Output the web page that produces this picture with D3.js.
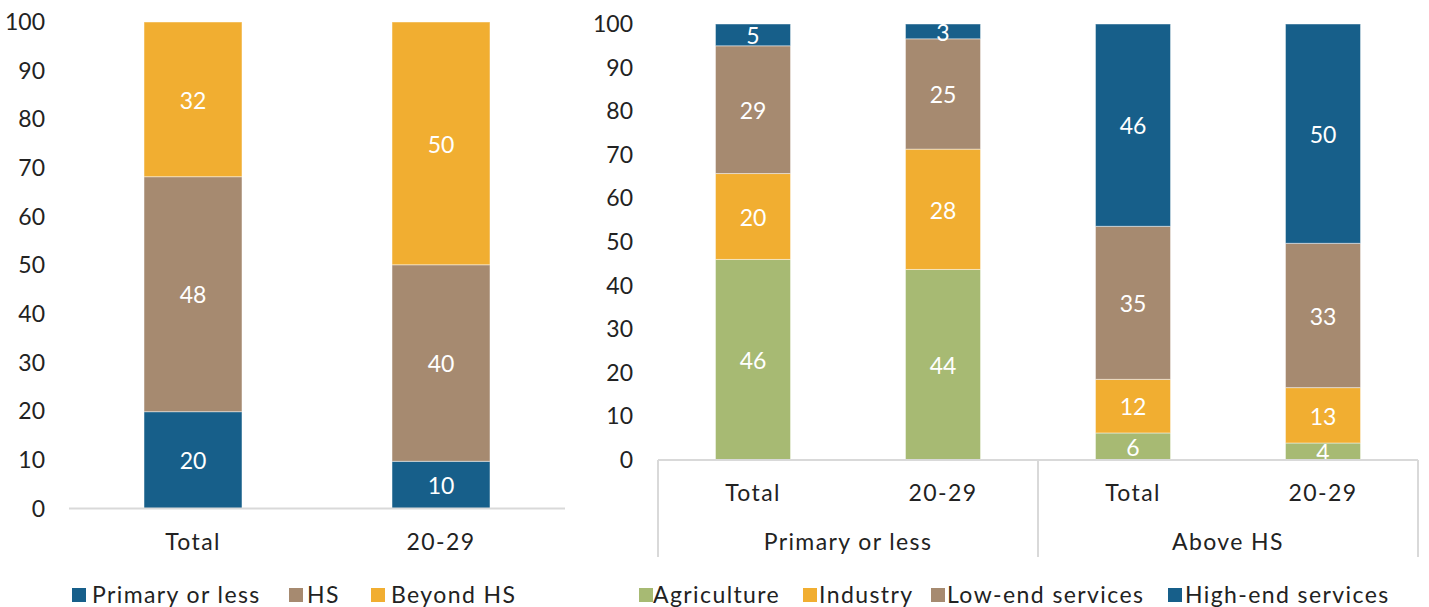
<!DOCTYPE html>
<html><head><meta charset="utf-8">
<script src="https://cdn.jsdelivr.net/npm/d3@7"></script>
<style>
body{margin:0;background:#fff;}
text{font-family:Lato,"Open Sans",sans-serif;font-weight:400;}
.w{letter-spacing:1.4px;}
</style></head>
<body><svg id="c" width="1429" height="607"></svg>
<script>
// ---- Left panel data ----
const leftCats = ["Total", "20-29"];
const leftSeries = ["Primary or less", "HS", "Beyond HS"];
const primaryOrLess = [19.9, 9.7];
const hs = [48.3, 40.4];
const beyondHS = [31.8, 49.9];

// ---- Right panel data ----
const rightGroups = ["Primary or less", "Above HS"];
const rightCats = ["Total", "20-29", "Total", "20-29"];
const rightSeries = ["Agriculture", "Industry", "Low-end services", "High-end services"];
const agriculture = [46.0, 43.7, 6.2, 3.9];
const industry = [19.7, 27.6, 12.3, 12.7];
const lowEnd = [29.3, 25.3, 35.1, 33.1];
const highEnd = [5.0, 3.4, 46.4, 50.3];

const yTicks = [0, 10, 20, 30, 40, 50, 60, 70, 80, 90, 100];

const C = {blue:"#175f8a", tan:"#a68a70", gold:"#f1ae31", green:"#a7ba73"};
const svg = d3.select("#c");
const fs = 23;

function drawPanel(opts){
  const {cats, seriesNames, seriesVals, colors, xRange, yRange, tickX} = opts;
  const x = d3.scaleBand().domain(d3.range(cats.length)).range(xRange).paddingInner(0.605).paddingOuter(0.3025);
  const y = d3.scaleLinear().domain([0,100]).range(yRange);
  const g = svg.append("g");
  g.selectAll(".yt").data(yTicks).join("text")
    .attr("x", tickX).attr("y", d=>y(d)).attr("dy","0.35em")
    .attr("text-anchor","end").attr("font-size",fs).attr("fill","#222").text(d=>d);
  const rows = cats.map((c,i)=>{const o={i}; seriesNames.forEach((s,k)=>o[s]=seriesVals[k][i]); return o;});
  const stack = d3.stack().keys(seriesNames)(rows);
  stack.forEach((layer,k)=>{
    const lg = g.append("g");
    lg.selectAll("rect").data(layer).join("rect")
      .attr("x",d=>x(d.data.i)).attr("width",x.bandwidth())
      .attr("y",d=>y(d[1])).attr("height",d=>y(d[0])-y(d[1]))
      .attr("fill",colors[k]).attr("stroke","rgba(255,255,255,0.45)").attr("stroke-width",1);
    lg.selectAll("text").data(layer).join("text")
      .attr("x",d=>x(d.data.i)+x.bandwidth()/2)
      .attr("y",d=>(y(d[0])+y(d[1]))/2).attr("dy","0.4em")
      .attr("text-anchor","middle").attr("font-size",fs).attr("font-weight",300).attr("fill","#fff")
      .text(d=>Math.round(d[1]-d[0]));
  });
  g.append("line").attr("x1",xRange[0]).attr("x2",xRange[1]).attr("y1",y(0)).attr("y2",y(0))
    .attr("stroke","#d9d9d9").attr("stroke-width",2);
  return {x,y,g};
}

// Left panel
const L = drawPanel({cats:leftCats, seriesNames:leftSeries, seriesVals:[primaryOrLess,hs,beyondHS],
  colors:[C.blue,C.tan,C.gold], xRange:[69,565], yRange:[508.5,22], tickX:45});
L.g.selectAll(".cl").data(leftCats).join("text").attr("class","w")
  .attr("x",(d,i)=>L.x(i)+L.x.bandwidth()/2).attr("y",542).attr("dy","0.35em")
  .attr("text-anchor","middle").attr("font-size",fs).attr("fill","#222").text(d=>d);

// Right panel
const R = drawPanel({cats:rightCats, seriesNames:rightSeries, seriesVals:[agriculture,industry,lowEnd,highEnd],
  colors:[C.green,C.gold,C.tan,C.blue], xRange:[658,1418], yRange:[460,24], tickX:633});
R.g.selectAll(".cl").data(rightCats).join("text").attr("class","w")
  .attr("x",(d,i)=>R.x(i)+R.x.bandwidth()/2).attr("y",493).attr("dy","0.35em")
  .attr("text-anchor","middle").attr("font-size",fs).attr("fill","#222").text(d=>d);
const gx = d3.scaleBand().domain(rightGroups).range([658,1418]);
R.g.selectAll(".gl").data(rightGroups).join("text").attr("class","w")
  .attr("x",d=>gx(d)+gx.bandwidth()/2).attr("y",542).attr("dy","0.35em")
  .attr("text-anchor","middle").attr("font-size",fs).attr("fill","#222").text(d=>d);
R.g.selectAll(".sep").data([658,1038,1418]).join("line")
  .attr("x1",d=>d).attr("x2",d=>d).attr("y1",460).attr("y2",557)
  .attr("stroke","#d9d9d9").attr("stroke-width",2);

// Legends
function legend(items, colors, xs, textXs){
  const lg = svg.append("g");
  items.forEach((t,i)=>{
    lg.append("rect").attr("x",xs[i]).attr("y",588).attr("width",14).attr("height",14).attr("fill",colors[i]);
    lg.append("text").attr("class","w").attr("x",textXs[i]).attr("y",595).attr("dy","0.35em")
      .attr("font-size",fs).attr("fill","#222").text(t);
  });
}
legend(leftSeries,[C.blue,C.tan,C.gold],[72,289,371],[92,307,391]);
legend(rightSeries,[C.green,C.gold,C.tan,C.blue],[639,803,931,1168],[653,819,947,1185]);
</script></body></html>
